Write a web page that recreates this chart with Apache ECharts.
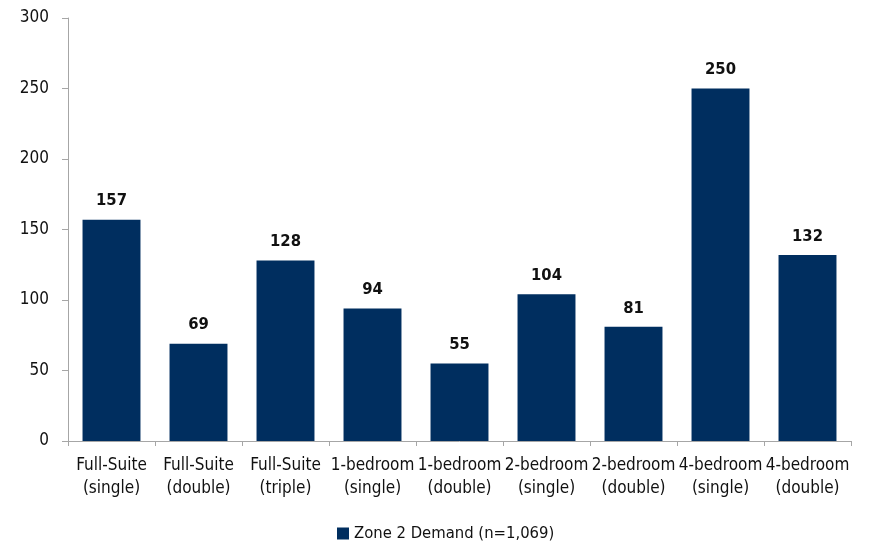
<!DOCTYPE html>
<html>
<head>
<meta charset="utf-8">
<script src="https://cdn.jsdelivr.net/npm/echarts@6/dist/echarts.min.js"></script>
<style>
  html, body { margin: 0; padding: 0; background: #fff; }
  #chart { width: 869px; height: 545px; }
</style>
</head>
<body>
<div id="chart"></div>
<script>
// Unit demand by room type
const categories = [
  'Full-Suite\n(single)', 'Full-Suite\n(double)', 'Full-Suite\n(triple)',
  '1-bedroom\n(single)', '1-bedroom\n(double)', '2-bedroom\n(single)',
  '2-bedroom\n(double)', '4-bedroom\n(single)', '4-bedroom\n(double)'
];
const demand = [157, 69, 128, 94, 55, 104, 81, 250, 132];
const seriesName = 'Zone 2 Demand (n=1,069)';
const yMin = 0, yMax = 300, yStep = 50;

const FONT = '"DejaVu Sans Condensed", "Liberation Sans Narrow", "Arial Narrow", sans-serif';
const AXIS_GRAY = '#a6a6a6';
const BAR = '#002e5f';

const chart = echarts.init(document.getElementById('chart'), null, { renderer: 'canvas' });
chart.setOption({
  animation: false,
  textStyle: { fontFamily: FONT },
  grid: { left: 68, right: 18, top: 18, bottom: 104, containLabel: false },
  legend: {
    data: [seriesName],
    left: 332,
    top: 520,
    itemWidth: 12,
    itemHeight: 12,
    itemGap: 4,
    icon: 'rect',
    textStyle: { fontFamily: FONT, fontSize: 16.5, color: '#111' }
  },
  xAxis: {
    type: 'category',
    data: categories,
    axisLine: { lineStyle: { color: AXIS_GRAY, width: 1 } },
    axisTick: { show: true, length: 5, lineStyle: { color: AXIS_GRAY } },
    axisLabel: {
      interval: 0,
      margin: 13,
      color: '#111',
      fontFamily: FONT,
      fontSize: 17,
      lineHeight: 23
    }
  },
  yAxis: {
    type: 'value',
    min: yMin,
    max: yMax,
    interval: yStep,
    splitLine: { show: false },
    axisLine: { show: true, lineStyle: { color: AXIS_GRAY, width: 1 } },
    axisTick: { show: true, length: 6, lineStyle: { color: AXIS_GRAY } },
    axisLabel: { margin: 19, color: '#111', fontFamily: FONT, fontSize: 17 }
  },
  series: [{
    name: seriesName,
    type: 'bar',
    data: demand,
    barWidth: '66.6%',
    itemStyle: { color: BAR },
    label: {
      show: true,
      position: 'top',
      distance: 10,
      color: '#111',
      fontFamily: FONT,
      fontWeight: 'bold',
      fontSize: 16.5
    }
  }]
});
</script>
</body>
</html>
